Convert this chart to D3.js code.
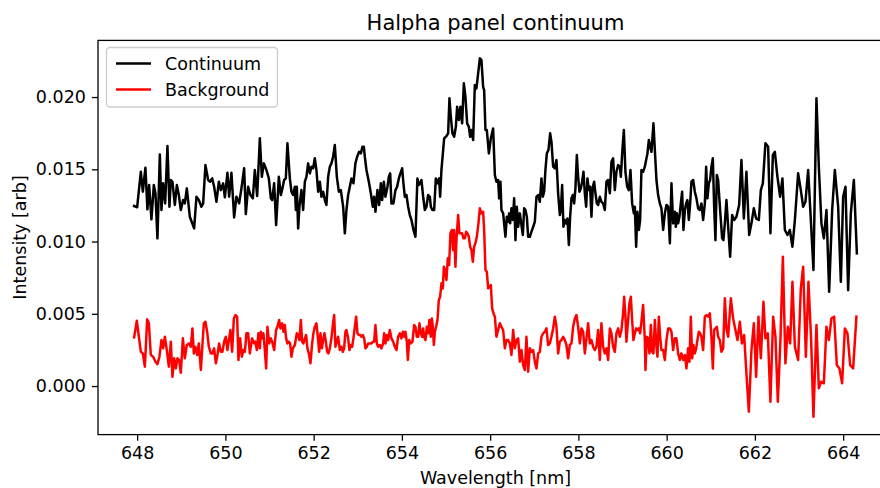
<!DOCTYPE html>
<html><head><meta charset="utf-8">
<script src="https://cdn.jsdelivr.net/npm/d3@7"></script>
<style>body{margin:0;background:#fff;overflow:hidden} svg{display:block} text{font-family:"DejaVu Sans",sans-serif;fill:#000}</style>
</head><body><svg id="c" width="880" height="488"></svg>
<script>
const titleText = "Halpha panel continuum";
const xLabel = "Wavelength [nm]";
const yLabel = "Intensity [arb]";
const seriesNames = ["Continuum", "Background"];
const seriesColors = ["#000000", "#ff0000"];
const xTicks = [648, 650, 652, 654, 656, 658, 660, 662, 664];
const yTicks = [0.000, 0.005, 0.010, 0.015, 0.020];

const contWl = [647.932,648.000,648.084,648.129,648.188,648.233,648.272,648.324,648.378,648.415,648.460,648.514,648.551,648.589,648.635,648.687,648.732,648.764,648.800,648.854,648.900,648.945,648.990,649.042,649.081,649.126,649.194,649.292,649.344,649.398,649.457,649.496,649.548,649.609,649.654,649.700,649.745,649.797,649.852,649.897,649.949,649.988,650.046,650.085,650.137,650.198,650.250,650.312,650.364,650.425,650.463,650.516,650.568,650.622,650.667,650.720,650.781,650.826,650.871,650.930,650.985,651.030,651.060,651.105,651.150,651.211,651.257,651.293,651.331,651.370,651.406,651.461,651.497,651.535,651.574,651.597,651.619,651.649,651.678,651.723,651.762,651.801,651.837,651.875,651.914,651.950,651.989,652.027,652.063,652.102,652.141,652.177,652.215,652.254,652.290,652.329,652.367,652.403,652.442,652.480,652.526,652.571,652.616,652.669,652.707,652.743,652.782,652.820,652.857,652.902,652.947,652.986,653.031,653.070,653.106,653.138,653.160,653.197,653.251,653.296,653.342,653.371,653.401,653.446,653.484,653.523,653.552,653.591,653.627,653.673,653.704,653.734,653.763,653.809,653.854,653.892,653.931,653.967,654.006,654.035,654.067,654.103,654.142,654.180,654.217,654.262,654.307,654.352,654.384,654.414,654.443,654.482,654.520,654.557,654.595,654.633,654.656,654.692,654.731,654.769,654.806,654.844,654.867,654.896,654.935,654.958,655.010,655.048,655.078,655.109,655.146,655.184,655.223,655.252,655.291,655.327,655.365,655.404,655.440,655.479,655.517,655.547,655.576,655.615,655.653,655.690,655.728,655.767,655.803,655.841,655.864,655.894,655.925,655.971,656.016,656.068,656.107,656.143,656.181,656.204,656.234,656.256,656.295,656.347,656.378,656.408,656.431,656.453,656.483,656.515,656.544,656.574,656.605,656.635,656.673,656.710,656.741,656.771,656.800,656.832,656.861,656.900,656.936,656.975,657.013,657.050,657.088,657.126,657.163,657.194,657.224,657.253,657.285,657.321,657.360,657.389,657.428,657.466,657.503,657.541,657.580,657.602,657.632,657.661,657.693,657.722,657.752,657.784,657.813,657.843,657.874,657.904,657.933,657.965,657.994,658.024,658.056,658.085,658.115,658.146,658.176,658.205,658.237,658.266,658.296,658.327,658.357,658.387,658.418,658.448,658.486,658.522,658.561,658.599,658.636,658.674,658.713,658.749,658.787,658.826,658.862,658.901,658.939,658.962,658.992,659.030,659.066,659.105,659.143,659.180,659.218,659.257,659.279,659.309,659.338,659.370,659.399,659.429,659.467,659.506,659.535,659.565,659.597,659.626,659.656,659.701,659.733,659.769,659.807,659.846,659.882,659.921,659.959,659.996,660.034,660.073,660.109,660.147,660.186,660.208,660.231,660.261,660.290,660.322,660.351,660.381,660.413,660.442,660.471,660.503,660.533,660.562,660.601,660.639,660.676,660.714,660.752,660.789,660.827,660.866,660.895,660.925,660.956,660.986,661.015,661.047,661.077,661.106,661.138,661.167,661.197,661.228,661.258,661.287,661.319,661.355,661.439,661.484,661.530,661.582,661.643,661.695,661.750,661.808,661.870,661.922,661.976,662.028,662.089,662.135,662.180,662.239,662.300,662.352,662.407,662.452,662.511,662.572,662.624,662.679,662.738,662.792,662.851,662.906,662.980,663.041,663.094,663.146,663.207,663.268,663.327,663.395,663.449,663.508,663.563,663.622,663.683,663.751,663.812,663.887,663.948,664.000,664.053,664.113,664.174,664.243,664.311];
const contVal = [0.01246,0.01237,0.01483,0.01345,0.01511,0.01223,0.01391,0.01154,0.01391,0.01334,0.01022,0.01603,0.01218,0.01403,0.01264,0.01661,0.01241,0.01426,0.01414,0.01253,0.01391,0.01322,0.01218,0.01287,0.01264,0.01368,0.01172,0.01091,0.01310,0.01287,0.01241,0.01264,0.01529,0.01426,0.01414,0.01437,0.01379,0.01275,0.01414,0.01356,0.01403,0.01306,0.01476,0.01310,0.01476,0.01167,0.01310,0.01264,0.01368,0.01507,0.01190,0.01379,0.01322,0.01299,0.01495,0.01315,0.01714,0.01448,0.01541,0.01495,0.01437,0.01299,0.01287,0.01403,0.01114,0.01448,0.01322,0.01368,0.01426,0.01437,0.01680,0.01437,0.01345,0.01322,0.01379,0.01218,0.01379,0.01091,0.01241,0.01356,0.01218,0.01414,0.01448,0.01541,0.01472,0.01518,0.01507,0.01576,0.01495,0.01345,0.01414,0.01310,0.01345,0.01287,0.01253,0.01448,0.01518,0.01541,0.01587,0.01668,0.01448,0.01345,0.01356,0.01241,0.01057,0.01218,0.01322,0.01379,0.01437,0.01403,0.01541,0.01587,0.01621,0.01610,0.01656,0.01656,0.01587,0.01495,0.01414,0.01334,0.01241,0.01310,0.01206,0.01356,0.01253,0.01403,0.01287,0.01414,0.01310,0.01379,0.01448,0.01472,0.01264,0.01264,0.01356,0.01379,0.01437,0.01472,0.01507,0.01403,0.01310,0.01322,0.01241,0.01183,0.01149,0.01080,0.01033,0.01437,0.01391,0.01403,0.01426,0.01310,0.01218,0.01241,0.01322,0.01310,0.01241,0.01218,0.01218,0.01437,0.01403,0.01437,0.01310,0.01495,0.01633,0.01714,0.01730,0.01749,0.01991,0.01864,0.01749,0.01725,0.01794,0.01933,0.01841,0.01933,0.01818,0.02095,0.02002,0.01818,0.01794,0.01725,0.01772,0.01702,0.02083,0.02060,0.02164,0.02268,0.02256,0.02071,0.02048,0.01772,0.01772,0.01610,0.01714,0.01783,0.01460,0.01414,0.01426,0.01299,0.01414,0.01218,0.01195,0.01033,0.01172,0.01137,0.01195,0.01126,0.01230,0.01149,0.01299,0.01010,0.01241,0.01102,0.01195,0.01114,0.01045,0.01230,0.01218,0.01172,0.01033,0.01033,0.01068,0.01102,0.01137,0.01310,0.01322,0.01275,0.01437,0.01310,0.01345,0.01495,0.01610,0.01633,0.01749,0.01691,0.01518,0.01507,0.01564,0.01334,0.01183,0.01218,0.01391,0.01102,0.01149,0.01126,0.01160,0.00976,0.01172,0.01299,0.01322,0.01264,0.01368,0.01599,0.01448,0.01345,0.01368,0.01414,0.01483,0.01334,0.01241,0.01437,0.01356,0.01379,0.01172,0.01379,0.01414,0.01334,0.01264,0.01253,0.01310,0.01275,0.01264,0.01218,0.01414,0.01426,0.01334,0.01552,0.01576,0.01356,0.01483,0.01529,0.01518,0.01448,0.01610,0.01772,0.01483,0.01379,0.01356,0.01495,0.01264,0.01195,0.01241,0.00964,0.01206,0.01080,0.01149,0.01495,0.01483,0.01518,0.01564,0.01610,0.01702,0.01656,0.01621,0.01818,0.01633,0.01426,0.01322,0.01264,0.01230,0.01080,0.01195,0.01253,0.01241,0.00988,0.01403,0.01126,0.01206,0.01102,0.01195,0.01126,0.01172,0.01264,0.01345,0.01080,0.01218,0.01264,0.01287,0.01149,0.01264,0.01414,0.01426,0.01345,0.01299,0.01230,0.01218,0.01264,0.01149,0.01264,0.01518,0.01299,0.01403,0.01426,0.01518,0.01576,0.01241,0.01010,0.01460,0.01426,0.01287,0.01149,0.01022,0.01010,0.01126,0.01287,0.00895,0.01183,0.01149,0.01172,0.01253,0.01564,0.01160,0.01483,0.01045,0.01126,0.01230,0.01160,0.01149,0.01356,0.01403,0.01680,0.01656,0.01057,0.01599,0.01621,0.01448,0.01310,0.01437,0.01080,0.01045,0.01080,0.00964,0.01149,0.01472,0.01356,0.01241,0.01275,0.01495,0.01149,0.00803,0.01991,0.01518,0.01126,0.01022,0.01218,0.00653,0.01218,0.01495,0.01241,0.00722,0.01310,0.01379,0.00664,0.01195,0.01426,0.00918];

const bgWl = [647.932,647.993,648.039,648.084,648.129,648.175,648.227,648.265,648.310,648.363,648.415,648.460,648.505,648.551,648.589,648.628,648.673,648.718,648.764,648.800,648.839,648.877,648.913,648.952,648.990,649.036,649.081,649.126,649.172,649.217,649.253,649.285,649.321,649.360,649.398,649.444,649.480,649.512,649.548,649.586,649.625,649.670,649.707,649.745,649.784,649.820,649.858,649.897,649.933,649.972,650.010,650.046,650.085,650.114,650.153,650.192,650.228,650.266,650.296,650.334,650.373,650.409,650.441,650.477,650.516,650.554,650.606,650.652,650.681,650.713,650.749,650.781,650.803,650.833,650.862,650.894,650.924,650.953,650.992,651.030,651.060,651.105,651.150,651.180,651.218,651.248,651.286,651.316,651.347,651.377,651.406,651.438,651.467,651.497,651.529,651.574,651.619,651.649,651.678,651.710,651.739,651.769,651.801,651.830,651.859,651.891,651.928,651.966,651.995,652.027,652.063,652.095,652.125,652.154,652.186,652.215,652.245,652.277,652.306,652.335,652.367,652.403,652.435,652.465,652.494,652.526,652.555,652.594,652.630,652.662,652.691,652.721,652.743,652.782,652.811,652.843,652.873,652.902,652.934,652.963,652.993,653.024,653.054,653.083,653.115,653.145,653.174,653.206,653.235,653.274,653.310,653.348,653.371,653.401,653.432,653.462,653.500,653.537,653.575,653.598,653.627,653.659,653.688,653.727,653.763,653.802,653.840,653.877,653.915,653.954,653.990,654.022,654.051,654.080,654.112,654.135,654.164,654.203,654.239,654.278,654.307,654.339,654.368,654.398,654.430,654.459,654.482,654.504,654.534,654.565,654.595,654.624,654.656,654.679,654.701,654.724,654.747,654.776,654.806,654.837,654.867,654.896,654.928,654.951,654.980,655.010,655.041,655.071,655.100,655.132,655.161,655.184,655.214,655.236,655.275,655.304,655.336,655.365,655.395,655.427,655.456,655.486,655.517,655.547,655.576,655.608,655.637,655.667,655.698,655.735,655.767,655.803,655.841,655.864,655.894,655.925,655.955,655.984,656.016,656.045,656.075,656.107,656.143,656.181,656.220,656.256,656.295,656.333,656.370,656.408,656.447,656.483,656.521,656.560,656.596,656.635,656.673,656.710,656.748,656.787,656.823,656.861,656.900,656.936,656.975,657.013,657.050,657.088,657.126,657.163,657.201,657.240,657.276,657.314,657.353,657.389,657.428,657.466,657.503,657.541,657.580,657.616,657.655,657.693,657.729,657.768,657.806,657.843,657.881,657.920,657.956,657.994,658.033,658.069,658.108,658.146,658.183,658.221,658.259,658.296,658.334,658.373,658.409,658.448,658.486,658.522,658.561,658.599,658.636,658.674,658.713,658.749,658.787,658.826,658.862,658.901,658.939,658.976,659.014,659.037,659.066,659.089,659.127,659.157,659.189,659.218,659.248,659.279,659.309,659.338,659.370,659.399,659.429,659.467,659.506,659.520,659.551,659.581,659.610,659.642,659.671,659.701,659.733,659.762,659.792,659.823,659.853,659.882,659.921,659.959,659.996,660.034,660.073,660.109,660.147,660.186,660.222,660.261,660.299,660.335,660.374,660.413,660.449,660.487,660.517,660.548,660.578,660.607,660.639,660.669,660.698,660.730,660.759,660.789,660.827,660.866,660.902,660.941,660.979,661.015,661.047,661.077,661.106,661.138,661.167,661.206,661.242,661.281,661.319,661.355,661.394,661.455,661.507,661.559,661.605,661.659,661.705,661.756,661.808,661.863,661.922,661.976,662.028,662.081,662.135,662.194,662.239,662.293,662.352,662.414,662.466,662.520,662.579,662.634,662.692,662.747,662.799,662.851,662.906,662.980,663.041,663.094,663.155,663.214,663.275,663.327,663.395,663.449,663.501,663.563,663.622,663.676,663.735,663.796,663.857,663.916,663.977,664.039,664.098,664.159,664.227,664.301];
const bgVal = [0.00337,0.00452,0.00341,0.00237,0.00226,0.00134,0.00462,0.00434,0.00215,0.00203,0.00168,0.00152,0.00203,0.00318,0.00261,0.00341,0.00249,0.00134,0.00307,0.00064,0.00192,0.00122,0.00192,0.00180,0.00092,0.00330,0.00192,0.00284,0.00295,0.00272,0.00399,0.00226,0.00272,0.00215,0.00295,0.00111,0.00284,0.00434,0.00445,0.00376,0.00272,0.00226,0.00226,0.00261,0.00157,0.00215,0.00295,0.00237,0.00237,0.00307,0.00341,0.00249,0.00330,0.00388,0.00237,0.00468,0.00491,0.00480,0.00180,0.00330,0.00203,0.00249,0.00237,0.00365,0.00365,0.00226,0.00330,0.00295,0.00307,0.00249,0.00365,0.00261,0.00376,0.00330,0.00365,0.00249,0.00122,0.00410,0.00295,0.00330,0.00307,0.00249,0.00388,0.00410,0.00457,0.00399,0.00434,0.00376,0.00422,0.00330,0.00295,0.00307,0.00295,0.00203,0.00261,0.00284,0.00365,0.00353,0.00318,0.00457,0.00307,0.00295,0.00330,0.00353,0.00261,0.00226,0.00157,0.00295,0.00365,0.00410,0.00434,0.00341,0.00237,0.00365,0.00261,0.00318,0.00365,0.00307,0.00237,0.00226,0.00261,0.00330,0.00422,0.00491,0.00272,0.00307,0.00341,0.00249,0.00272,0.00237,0.00261,0.00376,0.00388,0.00330,0.00249,0.00284,0.00272,0.00330,0.00410,0.00480,0.00365,0.00353,0.00353,0.00341,0.00353,0.00330,0.00261,0.00272,0.00295,0.00295,0.00295,0.00307,0.00307,0.00422,0.00295,0.00272,0.00284,0.00261,0.00295,0.00365,0.00295,0.00353,0.00318,0.00388,0.00330,0.00307,0.00272,0.00249,0.00341,0.00365,0.00330,0.00376,0.00341,0.00376,0.00307,0.00180,0.00318,0.00295,0.00307,0.00422,0.00410,0.00341,0.00341,0.00434,0.00365,0.00341,0.00399,0.00341,0.00318,0.00410,0.00365,0.00457,0.00341,0.00468,0.00410,0.00284,0.00376,0.00410,0.00457,0.00595,0.00618,0.00711,0.00676,0.00826,0.00803,0.00734,0.00884,0.00837,0.01057,0.01080,0.00941,0.01080,0.00826,0.01010,0.01183,0.01057,0.01057,0.01057,0.01022,0.01022,0.01068,0.01057,0.01033,0.00964,0.00941,0.00860,0.00964,0.00988,0.01033,0.01126,0.01230,0.01195,0.01206,0.01080,0.00803,0.00791,0.00676,0.00687,0.00699,0.00538,0.00503,0.00480,0.00341,0.00388,0.00434,0.00410,0.00388,0.00261,0.00318,0.00318,0.00295,0.00215,0.00388,0.00261,0.00318,0.00330,0.00168,0.00249,0.00145,0.00111,0.00341,0.00099,0.00261,0.00237,0.00249,0.00168,0.00122,0.00226,0.00237,0.00341,0.00365,0.00376,0.00399,0.00284,0.00295,0.00341,0.00399,0.00480,0.00410,0.00226,0.00307,0.00318,0.00341,0.00318,0.00284,0.00192,0.00284,0.00295,0.00410,0.00468,0.00491,0.00410,0.00295,0.00399,0.00376,0.00226,0.00330,0.00434,0.00295,0.00318,0.00272,0.00249,0.00272,0.00388,0.00180,0.00434,0.00272,0.00226,0.00261,0.00180,0.00399,0.00365,0.00272,0.00237,0.00365,0.00399,0.00341,0.00388,0.00503,0.00618,0.00480,0.00307,0.00457,0.00572,0.00618,0.00457,0.00318,0.00365,0.00399,0.00388,0.00399,0.00365,0.00445,0.00561,0.00318,0.00111,0.00341,0.00330,0.00226,0.00422,0.00237,0.00226,0.00457,0.00295,0.00203,0.00480,0.00341,0.00249,0.00249,0.00180,0.00318,0.00399,0.00399,0.00376,0.00249,0.00330,0.00330,0.00226,0.00180,0.00226,0.00180,0.00215,0.00122,0.00261,0.00168,0.00480,0.00192,0.00284,0.00226,0.00261,0.00318,0.00376,0.00365,0.00341,0.00249,0.00480,0.00491,0.00480,0.00503,0.00341,0.00122,0.00388,0.00399,0.00410,0.00341,0.00318,0.00237,0.00261,0.00607,0.00399,0.00341,0.00607,0.00468,0.00388,0.00318,0.00445,0.00295,0.00353,0.00088,-0.00178,0.00249,0.00434,0.00064,0.00480,0.00192,0.00583,0.00330,0.00365,-0.00109,0.00480,0.00341,-0.00109,0.00318,0.00895,0.00157,0.00410,0.00295,0.00722,0.00272,0.00180,0.00676,0.00826,0.00203,0.00722,0.00318,-0.00212,0.00422,-0.00016,0.00030,0.00019,0.00410,0.00318,0.00468,0.00480,0.00145,0.00122,0.00019,0.00399,0.00365,0.00145,0.00122,0.00480];

const svg = d3.select("#c");
const axLeft = 98, axRight = 893, axTop = 40.4, axBottom = 434.6;

const allX = contWl.concat(bgWl), allY = contVal.concat(bgVal);
const [x0, x1] = d3.extent(allX), [y0, y1] = d3.extent(allY);
const px = 0.05 * (x1 - x0), py = 0.05 * (y1 - y0);
const x = d3.scaleLinear().domain([x0 - px, x1 + px]).range([axLeft, axRight]);
const y = d3.scaleLinear().domain([y0 - py, y1 + py]).range([axBottom, axTop]);

svg.append("defs").append("clipPath").attr("id", "clip")
  .append("rect").attr("x", axLeft).attr("y", axTop).attr("width", axRight - axLeft).attr("height", axBottom - axTop);

const series = [
  {name: seriesNames[0], color: seriesColors[0], pts: contWl.map((w, i) => [w, contVal[i]])},
  {name: seriesNames[1], color: seriesColors[1], pts: bgWl.map((w, i) => [w, bgVal[i]])}
];
const lw = 2.5;
const line = d3.line().x(d => x(d[0])).y(d => y(d[1]));
const g = svg.append("g").attr("clip-path", "url(#clip)");
series.forEach(s => {
  g.append("path").datum(s.pts).attr("d", line).attr("fill", "none")
    .attr("stroke", s.color).attr("stroke-width", lw).attr("stroke-linejoin", "round").attr("stroke-linecap", "square");
});

const fs = 17.5, tl = 6.1;
const xAxis = svg.append("g").attr("transform", `translate(0,${axBottom})`)
  .call(d3.axisBottom(x).tickValues(xTicks).tickFormat(d3.format("d")).tickSize(tl).tickPadding(5.5));
const yAxis = svg.append("g").attr("transform", `translate(${axLeft},0)`)
  .call(d3.axisLeft(y).tickValues(yTicks).tickFormat(d3.format(".3f")).tickSize(tl).tickPadding(6));
[xAxis, yAxis].forEach(a => {
  a.select(".domain").remove();
  a.selectAll(".tick line").attr("stroke", "#000").attr("stroke-width", 1.3);
  a.selectAll(".tick text").attr("font-size", fs).attr("font-family", "DejaVu Sans").attr("fill", "#000");
});

svg.append("rect").attr("x", axLeft).attr("y", axTop).attr("width", axRight - axLeft).attr("height", axBottom - axTop)
  .attr("fill", "none").attr("stroke", "#000").attr("stroke-width", 1.3);

svg.append("text").attr("x", (axLeft + axRight) / 2).attr("y", 29.5).attr("text-anchor", "middle")
  .attr("font-size", 21).text(titleText);
svg.append("text").attr("x", (axLeft + axRight) / 2).attr("y", 484).attr("text-anchor", "middle")
  .attr("font-size", fs).text(xLabel);
svg.append("text").attr("transform", `translate(26,${(axTop + axBottom) / 2}) rotate(-90)`).attr("text-anchor", "middle")
  .attr("font-size", fs).text(yLabel);

const lg = svg.append("g");
lg.append("rect").attr("x", 106.5).attr("y", 47.5).attr("width", 171).attr("height", 59.5).attr("rx", 3.5)
  .attr("fill", "#fff").attr("fill-opacity", 0.8).attr("stroke", "#cccccc").attr("stroke-width", 1.3);
series.forEach((s, i) => {
  const cy = 63.5 + i * 26;
  lg.append("line").attr("x1", 116).attr("x2", 151).attr("y1", cy).attr("y2", cy)
    .attr("stroke", s.color).attr("stroke-width", lw);
  lg.append("text").attr("x", 165).attr("y", cy + 6).attr("font-size", fs).text(s.name);
});
</script></body></html>
